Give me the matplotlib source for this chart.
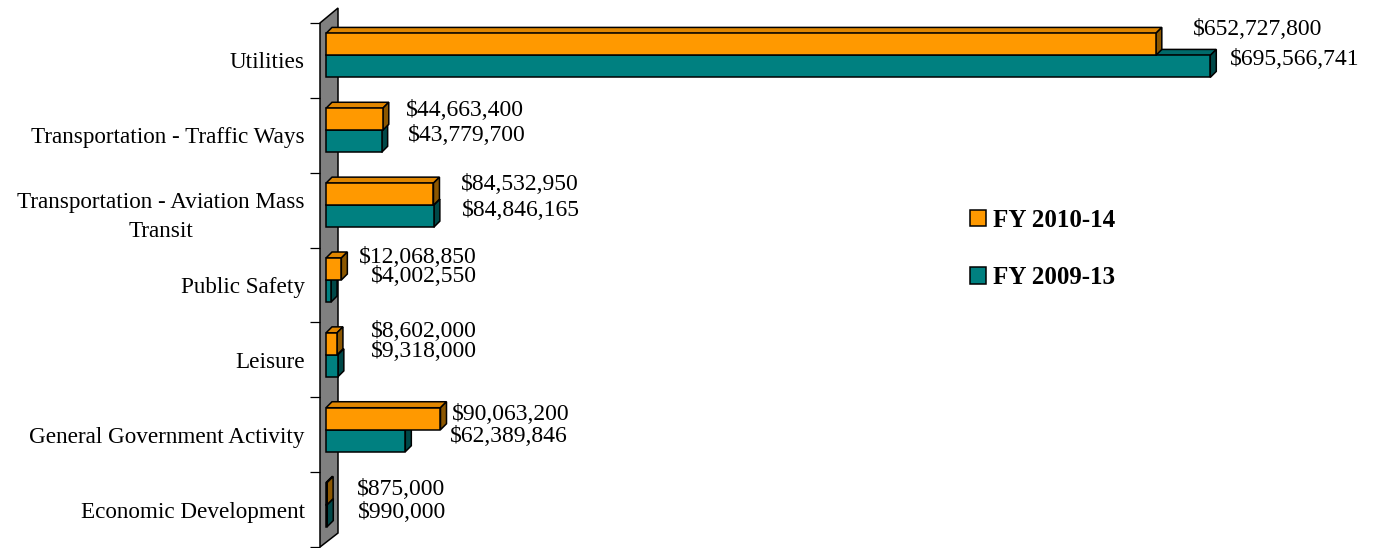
import numpy as np
import matplotlib.pyplot as plt
from matplotlib.patches import Polygon, Patch

plt.rcParams['font.family'] = ['Liberation Serif', 'DejaVu Serif']

# capital budget by program area
categories = ['Utilities', 'Transportation - Traffic Ways',
              'Transportation - Aviation Mass\nTransit', 'Public Safety',
              'Leisure', 'General Government Activity', 'Economic Development']
fy2010_14 = [652727800, 44663400, 84532950, 12068850, 8602000, 90063200, 875000]
fy2009_13 = [695566741, 43779700, 84846165, 4002550, 9318000, 62389846, 990000]
series_names = ['FY 2010-14', 'FY 2009-13']

# where each value label sits relative to the end of its bar (pixels)
label_off_new = [(37, 15), (23, 9), (27, 10), (18, 12), (34, 12), (11, 4), (30, 4)]
label_off_old = [(20, 7), (26, 6), (28, 6), (40, 15), (33, 14), (45, 4), (31, 3)]

orange = ('#FF9900', '#E08600', '#8C5700')   # front, top, side
teal = ('#008080', '#006A6A', '#004848')

px_per_dollar = 1.2713e-6
dx = 6 / px_per_dollar       # bar depth, x
dy = 6 / 74.86               # bar depth, y (category units)
h = 22 / 74.86               # bar thickness
shift = 5 / 74.86

fig = plt.figure(figsize=(13.74, 5.48), dpi=100)
ax = fig.add_axes([320 / 1374, 0, 1054 / 1374, 1])
x0 = -6 / px_per_dollar
ax.set_xlim(x0, x0 + 1054 / px_per_dollar)
ax.set_ylim(6.513, -0.807)


def bar3d(yc, v, colors):
    face, top, side = colors
    y_top, y_bot = yc - h / 2, yc + h / 2
    kw = dict(edgecolor='black', linewidth=1.1, joinstyle='miter', zorder=3)
    ax.add_patch(Polygon([(0, y_top), (v, y_top), (v + dx, y_top - dy), (dx, y_top - dy)],
                         facecolor=top, **kw))
    ax.add_patch(Polygon([(v, y_top), (v + dx, y_top - dy), (v + dx, y_bot - dy), (v, y_bot)],
                         facecolor=side, **kw))
    ax.add_patch(Polygon([(0, y_top), (v, y_top), (v, y_bot), (0, y_bot)],
                         facecolor=face, **kw))


# gray side wall
wall_back = 12 / px_per_dollar
ax.add_patch(Polygon([(x0, -0.5), (wall_back, -0.7), (wall_back, 6.313), (x0, 6.5)],
                     facecolor='#808080', edgecolor='black', linewidth=1.1,
                     zorder=1, clip_on=False))

y = np.arange(len(categories))
for i in y:
    yc = i - shift
    bar3d(yc + h / 2, fy2009_13[i], teal)
    bar3d(yc - h / 2, fy2010_14[i], orange)
    ax.annotate(f'${fy2010_14[i]:,}', (fy2010_14[i], yc - h / 2),
                xytext=label_off_new[i], textcoords='offset pixels',
                ha='left', va='center', fontsize=17)
    ax.annotate(f'${fy2009_13[i]:,}', (fy2009_13[i], yc + h / 2),
                xytext=label_off_old[i], textcoords='offset pixels',
                ha='left', va='center', fontsize=17)

ax.set_yticks(y)
ax.set_yticklabels(categories, fontsize=16.7, multialignment='center',
                   linespacing=1.55)
ax.set_yticks(np.arange(len(categories) + 1) - 0.5, minor=True)
ax.tick_params(axis='y', which='major', length=0, pad=11)
ax.tick_params(axis='y', which='minor', length=7.2, width=0.9, direction='out')
ax.tick_params(axis='x', bottom=False, labelbottom=False)
for s in ax.spines.values():
    s.set_visible(False)

handles = [Patch(facecolor=orange[0], edgecolor='black', linewidth=1.1),
           Patch(facecolor=teal[0], edgecolor='black', linewidth=1.1)]
leg = fig.legend(handles, series_names, loc='upper left',
                 bbox_to_anchor=(970 / 1374, 1 - 209 / 548), frameon=False,
                 prop={'weight': 'bold', 'size': 18}, handlelength=0.64,
                 handleheight=0.64, handletextpad=0.28, labelspacing=1.37,
                 borderpad=0, borderaxespad=0)

fig.savefig('out.png', dpi=100)
